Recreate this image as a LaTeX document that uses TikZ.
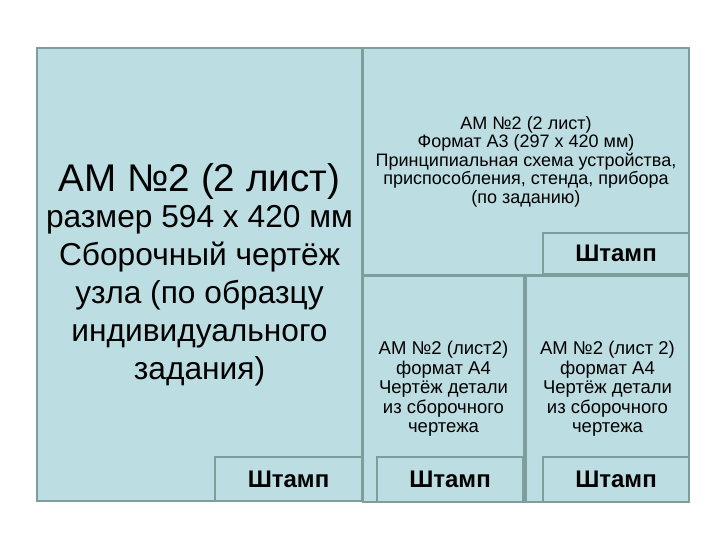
\documentclass[tikz,border=0pt]{standalone}
\usepackage{fontspec}
\setmainfont{Liberation Sans}
\definecolor{paper}{RGB}{188,222,226}
\definecolor{frame}{RGB}{126,158,158}
\tikzset{
  sheet/.style = {draw=frame, fill=paper, line width=2pt, inner sep=0pt, align=center},
  stampbox/.style = {draw=frame, fill=paper, line width=1.6pt, inner sep=0pt,
                     font=\bfseries\fontsize{24}{24}\selectfont},
}
\begin{document}
\begin{tikzpicture}[x=1pt, y=-1pt]
\useasboundingbox (0,0) rectangle (720,540);
% sheets
\node[sheet, minimum width=325pt, minimum height=453pt, font=\fontsize{31.7}{38}\selectfont]
  (assembly) at (199.5,274.5)
  {{\fontsize{38.6}{38.6}\selectfont АМ №2 (2 лист)}\\[-2pt] размер 594 х 420 мм\\ Сборочный чертёж\\
   узла (по образцу\\ индивидуального\\ задания)};
\node[sheet, minimum width=326pt, minimum height=227pt, font=\fontsize{18}{18.5}\selectfont]
  (scheme) at (526,161.5)
  {АМ №2 (2 лист)\\ Формат А3 (297 х 420 мм)\\ Принципиальная схема устройства,\\
   приспособления, стенда, прибора\\ (по заданию)};
\node[sheet, minimum width=161pt, minimum height=226pt, font=\fontsize{18.5}{19.5}\selectfont]
  (partA) at (443.5,389)
  {АМ №2 (лист2)\\ формат А4\\ Чертёж детали\\ из сборочного\\ чертежа};
\node[sheet, minimum width=163pt, minimum height=226pt, font=\fontsize{18.5}{19.5}\selectfont]
  (partB) at (607.5,389)
  {АМ №2 (лист 2)\\ формат А4\\ Чертёж детали\\ из сборочного\\ чертежа};
% stamps
\node[stampbox, minimum width=147pt, minimum height=44pt] (stampAs) at (288.5,479) {Штамп};
\node[stampbox, minimum width=146pt, minimum height=41pt] (stampSc) at (616,253.5) {Штамп};
\node[stampbox, minimum width=146pt, minimum height=45pt] (stampPa) at (450,479.5) {Штамп};
\node[stampbox, minimum width=146pt, minimum height=45pt] (stampPb) at (616,479.5) {Штамп};
\end{tikzpicture}
\end{document}
